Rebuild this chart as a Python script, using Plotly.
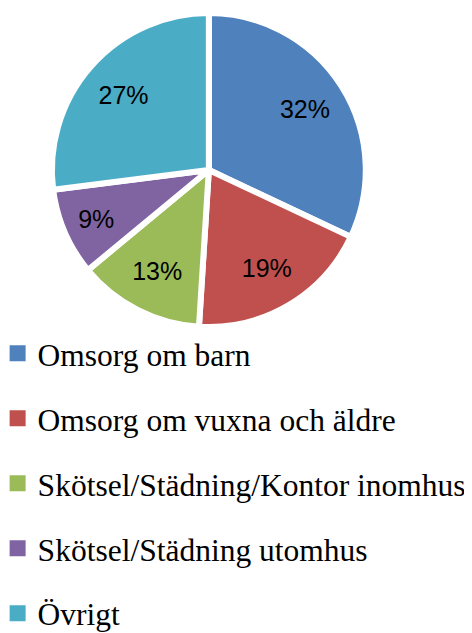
import plotly.graph_objects as go

labels = ["Omsorg om barn", "Omsorg om vuxna och äldre",
          "Skötsel/Städning/Kontor inomhus", "Skötsel/Städning utomhus", "Övrigt"]
values = [32, 19, 13, 9, 27]
colors = ["#4F81BD", "#C0504D", "#9BBB59", "#8064A2", "#4BACC6"]

dom = dict(x=[0.093, 0.758], y=[0.496, 0.992])

fig = go.Figure()
# coloured slices
fig.add_trace(go.Pie(
    labels=labels, values=values, sort=False, direction="clockwise", rotation=0,
    marker=dict(colors=colors, line=dict(color="white", width=6)),
    textinfo="none", domain=dom,
    showlegend=False, hoverinfo="label+percent",
))
# transparent ring carrying the percentage labels further out
fig.add_trace(go.Pie(
    labels=labels, values=values, sort=False, direction="clockwise", rotation=0,
    hole=0.45,
    marker=dict(colors=["rgba(0,0,0,0)"] * len(values), line=dict(width=0)),
    textinfo="percent", texttemplate="%{percent:.0%}",
    textposition="inside", insidetextorientation="horizontal",
    textfont=dict(family="Liberation Sans", size=25, color="black"),
    domain=dom, showlegend=False, hoverinfo="skip",
))
for i, (lab, col) in enumerate(zip(labels, colors)):
    fig.add_trace(go.Scatter(
        x=[None], y=[None], mode="markers", name=lab, legendgroup=f"g{i}",
        marker=dict(symbol="square", size=17, color=col),
        showlegend=True,
    ))

fig.update_layout(
    width=472, height=633,
    margin=dict(l=0, r=0, t=0, b=0, autoexpand=False),
    paper_bgcolor="white", plot_bgcolor="white",
    xaxis=dict(visible=False), yaxis=dict(visible=False),
    legend=dict(
        x=-0.022, y=0.497, xanchor="left", yanchor="top",
        font=dict(family="Liberation Serif", size=31.5, color="black"),
        tracegroupgap=21, itemwidth=30, bgcolor="rgba(0,0,0,0)",
    ),
)
fig.write_html("out.html")
